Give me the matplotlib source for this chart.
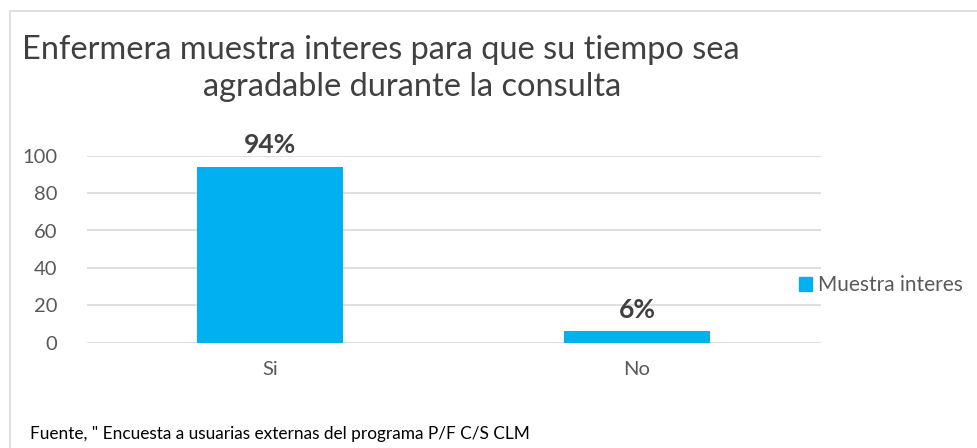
import matplotlib
matplotlib.use("Agg")
import matplotlib.pyplot as plt
from matplotlib.patches import Rectangle, Patch

categories = ["Si", "No"]
values = [94, 6]
labels = ["94%", "6%"]
series_name = "Muestra interes"
yticks = [0, 20, 40, 60, 80, 100]
title_lines = ["Enfermera muestra interes para que su tiempo sea", "agradable durante la consulta"]
footer = 'Fuente, " Encuesta a usuarias externas del programa P/F C/S CLM'

plt.rcParams['font.family'] = ['Lato', 'DejaVu Sans']

W, H = 977, 448
fig = plt.figure(figsize=(W/100, H/100), dpi=100)
fig.patches.append(Rectangle((10/W, -0.1), 2, 1.1 - 11/H, transform=fig.transFigure,
                             fill=False, edgecolor='#d9d9d9', linewidth=1.2))

ax = fig.add_axes([86.5/W, 1 - 342.7/H, (820.5-86.5)/W, (342.7-155.7)/H])
x = range(len(categories))
ax.bar(x, values, width=0.4, color='#00B0F0', zorder=3, label=series_name)
ax.set_xlim(-0.5, 1.5)
ax.set_ylim(0, 100)
ax.set_yticks(yticks)
ax.set_xticks(list(x))
ax.set_xticklabels(categories)
ax.grid(axis='y', color='#d9d9d9', linewidth=1.2, zorder=0)
for s in ax.spines.values():
    s.set_visible(False)
ax.tick_params(axis='both', length=0, labelsize=14.5, colors='#595959')
ax.tick_params(axis='y', pad=21)
ax.tick_params(axis='x', pad=13)
for xi, v, l in zip(x, values, labels):
    ax.annotate(l, (xi, v), xytext=(0, 7), textcoords='offset points', ha='center', va='bottom',
                fontsize=19, fontweight='bold', color='#404040')

fig.text(381/W, 1 - 50/H, title_lines[0], ha='center', va='center', fontsize=23.4,
         color='#404040')
fig.text(412/W, 1 - 87/H, title_lines[1], ha='center', va='center', fontsize=23.4,
         color='#404040')

fig.legend(handles=[Patch(color='#00B0F0', label=series_name)], loc='center left',
           bbox_to_anchor=(780/W, 1 - 285/H), frameon=False, fontsize=15,
           handlelength=0.65, handleheight=0.65, handletextpad=0.25, labelcolor='#595959')

fig.text(30/W, 1 - 434/H, footer, ha='left', va='center', fontsize=12.4, color='#000000')

fig.savefig('out.png', dpi=100)
